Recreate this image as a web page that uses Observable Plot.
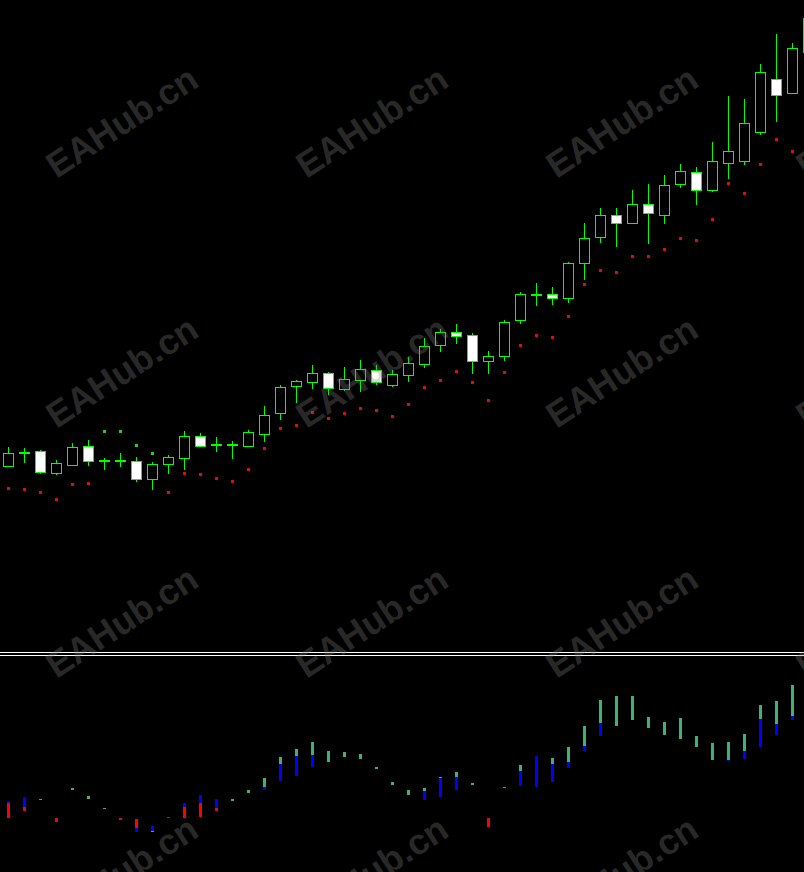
<!DOCTYPE html>
<html><head><meta charset="utf-8">
<script src="https://cdn.jsdelivr.net/npm/d3@7"></script>
<script src="https://cdn.jsdelivr.net/npm/@observablehq/plot@0.6"></script>
<style>
html,body{margin:0;padding:0;background:#000;}
#wrap{position:relative;width:804px;height:872px;overflow:hidden;background:#000;}
#wrap svg{display:block;}
.sep{height:2px;border-top:1px solid #fff;border-bottom:1px solid #fff;}
#wm{position:absolute;left:0;top:0;width:804px;height:872px;pointer-events:none;}
#wm span{position:absolute;font:bold 36px "Liberation Sans",Arial,sans-serif;color:rgba(128,128,128,0.33);white-space:nowrap;transform:translate(-50%,-50%) rotate(-33deg);}
</style></head>
<body><div id="wrap"></div>
<script>
// ---- price data (bar index 0..50) ----
const opens  = [186,199,201,179,187,206,191,191,191,173,188,194,216,207,207,206,218,239,266,270,279,263,272,282,267,277,288,307,320,317,291,296,332,357,358,354,389,415,437,429,448,437,468,480,462,489,491,520,573,559,600];
const highs  = [205,204,202,192,209,212,194,199,195,190,197,221,219,215,211,222,246,267,272,287,280,285,292,287,282,295,314,323,328,319,301,332,360,369,365,390,429,444,444,462,468,477,488,485,510,556,553,588,618,609,640];
const lows   = [185,189,178,177,186,186,182,185,170,162,178,182,205,200,193,205,210,232,249,263,257,261,260,267,265,270,284,300,308,278,278,291,328,346,347,349,372,409,405,428,408,428,464,447,460,473,487,517,530,559,597];
const closes = [199,200,180,189,205,191,192,192,173,188,195,216,206,208,208,220,237,265,271,279,264,273,283,270,278,289,306,320,316,291,296,330,358,358,354,389,414,437,429,448,439,467,481,462,491,501,529,580,557,604,634];
// ---- parabolic SAR values (bar 0..49) ----
const sar = [164,163,160,153,168,169,221,221,207,199,160,179,178,174,171,183,204,224,227,240,234,239,244,242,236,248,265,272,281,270,252,280,307,317,315,336,368,382,380,396,396,403,414,412,433,469,459,488,513,501];
// ---- lower indicator histogram (bar 0..49) ----
const histTop = [-1,3,1,-18,12,4,-8,-18,-19,-26,-17,-3,5,1,1,10,22,43,51,58,49,48,46,33,18,10,12,23,28,17,-18,13,35,44,42,53,74,100,104,104,83,78,82,64,57,58,66,95,99,115];
const histMid = [-3,-7,0,-22,10,1,-9,-20,-28,-31,-18,-7,-3,-8,-1,7,13,36,44,45,38,43,41,31,15,5,9,22,23,15,-27,12,29,13,36,38,54,77,74,80,72,65,61,53,40,40,49,81,76,84];
const histBot = [-18,-11,0,-22,10,1,-9,-20,-32,-32,-18,-18,-17,-11,-1,7,10,19,24,33,38,43,41,31,15,5,0,3,10,15,-27,12,14,13,18,32,49,64,74,80,72,65,61,53,40,39,41,53,65,80];
const upperKind = ["bull","bull","trend","bear","trend","trend","trend","bear","bear","bull","bear","bull","bull","bull","trend","trend","trend","trend","trend","trend","trend","trend","trend","trend","trend","trend","trend","trend","trend","trend","bear","trend","trend","bull","trend","trend","trend","trend","trend","trend","trend","trend","trend","trend","trend","trend","trend","trend","trend","trend"];
const lowerKind = ["bear","bear","","","","","","","bull","trend","","bear","bear","bear","","","bull","bull","bull","bull","","","","","","","bull","bull","bull","","","","bull","","bull","bull","bull","bull","","","","","","","","bull","bull","bull","bull","bull"];
const kinds = ["trend","bull","bear"];
const watermark = "EAHub.cn";

// ---- build tables ----
const candles = opens.map((o,i)=>({i, open:o, high:highs[i], low:lows[i], close:closes[i]}));
const sarRows = sar.map((v,i)=>({i, v, above: v > highs[i]}));
const segs = [];
histTop.forEach((t,i)=>{
  if (upperKind[i]) segs.push({i, a:t, b:histMid[i], kind:upperKind[i]});
  if (lowerKind[i]) segs.push({i, a:histMid[i], b:histBot[i], kind:lowerKind[i]});
});

const lime = "#00ff00";
const xDom = [-0.5, 49.75];
const bw = 5/16;
const crisp = "crispEdges";

const main = Plot.plot({
  width: 804, height: 652, margin: 0,
  x: {domain: xDom, axis: null},
  y: {domain: [0, 652], axis: null},
  style: {background: "black"},
  marks: [
    Plot.ruleX(candles, {x: "i", y1: "low", y2: "high", stroke: lime, strokeWidth: 1, shapeRendering: crisp}),
    Plot.rect(candles.filter(d=>d.close>=d.open), {x1: d=>d.i-bw, x2: d=>d.i+bw, y1: "open", y2: "close", fill: "black", stroke: lime, strokeWidth: 1, shapeRendering: crisp}),
    Plot.rect(candles.filter(d=>d.close<d.open), {x1: d=>d.i-bw, x2: d=>d.i+bw, y1: "open", y2: "close", fill: "white", stroke: lime, strokeWidth: 1, shapeRendering: crisp}),
    Plot.dot(sarRows.filter(d=>!d.above), {x: "i", y: "v", r: 1.6, fill: "#ff0000", stroke: "none", shapeRendering: crisp}),
    Plot.dot(sarRows.filter(d=>d.above), {x: "i", y: "v", r: 1.6, fill: "#1ed21e", stroke: "none", shapeRendering: crisp})
  ]
});

const lower = Plot.plot({
  width: 804, height: 216, margin: 0,
  x: {domain: xDom, axis: null},
  y: {domain: [-72.5, 143.5], axis: null},
  color: {domain: kinds, range: ["#3cb371", "#0000ff", "#ff0000"]},
  style: {background: "black"},
  marks: [
    Plot.ruleX(segs, {x: "i", y1: "a", y2: "b", stroke: "kind", strokeWidth: 3, shapeRendering: crisp})
  ]
});

const wrap = document.getElementById("wrap");
wrap.appendChild(main);
const sep = document.createElement("div"); sep.className = "sep"; wrap.appendChild(sep);
wrap.appendChild(lower);
const wm = document.createElement("div"); wm.id = "wm";
for (let r = 0; r < 4; r++) for (let c = 0; c < 4; c++) {
  const s = document.createElement("span");
  s.textContent = watermark;
  s.style.left = (122 + 250*c) + "px";
  s.style.top = (122 + 250*r) + "px";
  wm.appendChild(s);
}
wrap.appendChild(wm);
</script></body></html>
